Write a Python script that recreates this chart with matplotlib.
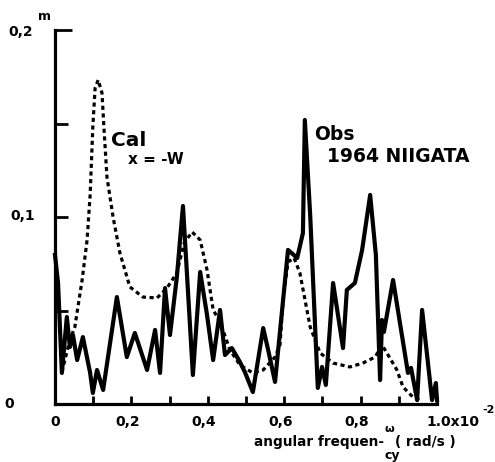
import numpy as np
import matplotlib.pyplot as plt

# observed spectrum, 1964 Niigata (x in 1e-2 rad/s, y in m)
obs_x = [0.000, 0.008, 0.018, 0.031, 0.039, 0.047, 0.058, 0.073, 0.092, 0.099,
         0.110, 0.126, 0.162, 0.188, 0.209, 0.241, 0.262, 0.275, 0.288, 0.301,
         0.319, 0.335, 0.361, 0.380, 0.398, 0.414, 0.432, 0.445, 0.463, 0.484,
         0.497, 0.518, 0.545, 0.558, 0.576, 0.610, 0.634, 0.649, 0.654, 0.668,
         0.688, 0.699, 0.709, 0.728, 0.754, 0.764, 0.785, 0.804, 0.825, 0.840,
         0.851, 0.856, 0.861, 0.885, 0.924, 0.932, 0.948, 0.961, 0.987, 0.997,
         1.000]
obs_y = [0.0797, 0.0647, 0.0166, 0.0465, 0.0305, 0.0369, 0.0235, 0.0358, 0.0166, 0.0059,
         0.0182, 0.0075, 0.0572, 0.0251, 0.0380, 0.0182, 0.0396, 0.0166, 0.0620, 0.0369,
         0.0679, 0.1059, 0.0155, 0.0706, 0.0476, 0.0235, 0.0503, 0.0262, 0.0299, 0.0225,
         0.0171, 0.0064, 0.0406, 0.0289, 0.0118, 0.0824, 0.0781, 0.0914, 0.1519, 0.1011,
         0.0086, 0.0198, 0.0102, 0.0647, 0.0299, 0.0610, 0.0647, 0.0824, 0.1118, 0.0797,
         0.0128, 0.0449, 0.0385, 0.0663, 0.0166, 0.0193, 0.0021, 0.0503, 0.0021, 0.0112,
         0.0020]

# calculated spectrum, x = -W
cal_x = [0.018, 0.039, 0.052, 0.060, 0.071, 0.084, 0.092, 0.099, 0.105, 0.113,
         0.123, 0.128, 0.136, 0.152, 0.170, 0.196, 0.230, 0.267, 0.293, 0.319,
         0.338, 0.359, 0.380, 0.398, 0.414, 0.432, 0.458, 0.484, 0.518, 0.545,
         0.576, 0.589, 0.597, 0.610, 0.626, 0.641, 0.668, 0.694, 0.728, 0.772,
         0.806, 0.838, 0.856, 0.872, 0.895, 0.911, 0.937, 0.955]
cal_y = [0.0171, 0.0342, 0.0412, 0.0519, 0.0663, 0.0877, 0.1118, 0.1481, 0.1690, 0.1733,
         0.1663, 0.1481, 0.1214, 0.1000, 0.0807, 0.0626, 0.0572, 0.0567, 0.0620, 0.0701,
         0.0861, 0.0920, 0.0877, 0.0717, 0.0503, 0.0439, 0.0289, 0.0209, 0.0166, 0.0182,
         0.0251, 0.0316, 0.0556, 0.0759, 0.0781, 0.0701, 0.0412, 0.0273, 0.0219, 0.0198,
         0.0219, 0.0251, 0.0316, 0.0262, 0.0182, 0.0091, 0.0037, 0.0021]

x_ticks = np.arange(0, 1.01, 0.1)
x_labels = ["0", "0,2", "0,4", "0,6", "0,8"]
y_ticks = [0, 0.05, 0.1, 0.15, 0.2]
y_labels = ["0", "0,1", "0,2"]

W, H = 495, 462


def fpos(px, py):
    # pixel position -> figure fraction
    return px / W, 1 - py / H


fig = plt.figure(figsize=(W / 100, H / 100), dpi=100)
ax = fig.add_axes([55 / W, 1 - 404 / H, (437 - 55) / W, (404 - 30) / H])

ax.plot(cal_x, cal_y, color="black", lw=2.3, linestyle=(0, (1.3, 1.1)),
        clip_on=False)
ax.plot(obs_x, obs_y, color="black", lw=3.0, solid_joinstyle="round",
        clip_on=False)

ax.set_xlim(0, 1.0)
ax.set_ylim(0, 0.2)

ax.spines["top"].set_visible(False)
ax.spines["right"].set_visible(False)
ax.spines["left"].set_linewidth(2.3)
ax.spines["bottom"].set_linewidth(2.3)

ax.set_xticks(x_ticks)
ax.set_yticks(y_ticks)
ax.tick_params(axis="x", direction="in", length=6, width=2,
               labelbottom=False)
ax.tick_params(axis="y", direction="in", length=9, width=2,
               labelleft=False)
ax.yaxis.get_major_ticks()[-1].tick1line.set_markersize(12)

fs = dict(fontsize=10, fontweight="bold", color="black")

# x tick labels
for lab, xv in zip(x_labels, x_ticks[::2]):
    px = 55 + xv * 382 - (0 if xv == 0 else 4)
    fig.text(*fpos(px, 422), lab, ha="center", va="center", **fs)
fig.text(*fpos(426, 422), r"1.0x10", ha="left", va="center", **fs)
fig.text(*fpos(482, 410), "-2", ha="left", va="center", fontsize=8,
         fontweight="bold")

# y tick labels
fig.text(*fpos(9, 404), y_labels[0], ha="center", va="center", **fs)
fig.text(*fpos(35, 216), y_labels[1], ha="right", va="center", **fs)
fig.text(*fpos(33, 32), y_labels[2], ha="right", va="center", **fs)
fig.text(*fpos(38, 17), "m", ha="left", va="center", fontsize=9,
         fontweight="bold")

# axis label
fig.text(*fpos(254, 442), "angular frequen-", ha="left", va="center",
         fontsize=9.8, fontweight="bold")
fig.text(*fpos(395, 442), "( rad/s )", ha="left", va="center",
         fontsize=9.8, fontweight="bold")
fig.text(*fpos(389, 429), "ω", ha="center", va="center", fontsize=8,
         fontweight="bold")
fig.text(*fpos(392, 455), "cy", ha="center", va="center", fontsize=9,
         fontweight="bold")

# curve labels
fig.text(*fpos(111, 140), "Cal", ha="left", va="center", fontsize=14.5,
         fontweight="bold")
fig.text(*fpos(128, 160), "x = -W", ha="left", va="center", fontsize=11,
         fontweight="bold")
fig.text(*fpos(314, 135), "Obs", ha="left", va="center", fontsize=13.5,
         fontweight="bold")
fig.text(*fpos(327, 157), "1964 NIIGATA", ha="left", va="center",
         fontsize=13.5, fontweight="bold")

fig.savefig("out.png", dpi=100)
